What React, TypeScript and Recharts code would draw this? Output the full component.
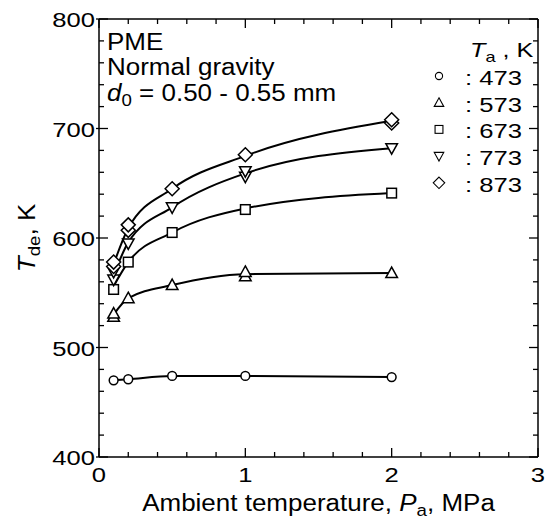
import React from 'react';
import { ComposedChart, Line, Scatter, XAxis, YAxis, Customized } from 'recharts';

// ─── data ─────────────────────────────────────────────────────────────────────

const pressures = [0.1, 0.2, 0.5, 1, 2];

// smooth fit curves through each ambient temperature group
const fit473 = [470, 471, 474, 474, 473];
const fit573 = [530, 545, 557, 567, 568];
const fit673 = [556, 578, 605, 627, 641];
const fit773 = [566, 596, 628, 659, 682];
const fit873 = [576, 609, 645, 675, 707];

// measured points (repeats included)
const pts473x = [0.1, 0.2, 0.5, 1, 2];
const pts473y = [470, 471, 474, 474, 473];
const pts573x = [0.1, 0.1, 0.2, 0.5, 1, 1, 2];
const pts573y = [528, 531, 545, 557, 565, 569, 568];
const pts673x = [0.1, 0.2, 0.5, 1, 2];
const pts673y = [553, 578, 605, 626, 641];
const pts773x = [0.1, 0.1, 0.2, 0.5, 1, 1, 2];
const pts773y = [562, 569, 595, 628, 656, 661, 682];
const pts873x = [0.1, 0.1, 0.2, 0.2, 0.5, 1, 2, 2];
const pts873y = [574, 578, 607, 612, 645, 676, 705, 708];

const legendLabels = [': 473', ': 573', ': 673', ': 773', ': 873'];

const xTicks = [0, 0.2, 0.4, 0.6, 0.8, 1, 1.2, 1.4, 1.6, 1.8, 2, 2.2, 2.4, 2.6, 2.8, 3];
const yTicks = [400, 420, 440, 460, 480, 500, 520, 540, 560, 580, 600, 620, 640, 660, 680, 700, 720, 740, 760, 780, 800];
const xMajor = [0, 1, 2, 3];
const yMajor = [400, 500, 600, 700, 800];

// ─── layout ───────────────────────────────────────────────────────────────────

const W = 550;
const H = 521;
const LEFT = 99;
const RIGHT = 12;
const TOP = 19;
const BOTTOM = 64;
const PL = LEFT;
const PR = W - RIGHT;
const PT = TOP;
const PB = H - BOTTOM;
const FONT = '"Liberation Sans", Arial, sans-serif';

const zip = (xs: number[], ys: number[]) => xs.map((x, i) => ({ x, y: ys[i] }));
const fit = (ys: number[]) => pressures.map((x, i) => ({ x, y: ys[i] }));

function SText({ x, y, sx = 1.13, size = 23, anchor = 'start', rotate = 0, children }: any) {
  const tr = `translate(${x},${y})${rotate ? ` rotate(${rotate})` : ''} scale(${sx},1)`;
  return (
    <text transform={tr} fontSize={size} textAnchor={anchor} fontFamily={FONT} fill="#000">
      {children}
    </text>
  );
}

// ─── markers ──────────────────────────────────────────────────────────────────

type Kind = 'circle' | 'up' | 'square' | 'down' | 'diamond';

function marker(kind: Kind, cx: number, cy: number, s: number, sw: number) {
  const common = { fill: '#fff', stroke: '#000', strokeWidth: sw };
  if (kind === 'circle') return <circle cx={cx} cy={cy} r={4.4 * s} {...common} />;
  if (kind === 'square') {
    const h = 4.8 * s;
    return <rect x={cx - h} y={cy - h} width={2 * h} height={2 * h} {...common} />;
  }
  if (kind === 'up') {
    const w = 5.8 * s;
    return <path d={`M${cx},${cy - 6 * s}L${cx + w},${cy + 4.5 * s}L${cx - w},${cy + 4.5 * s}Z`} {...common} />;
  }
  if (kind === 'down') {
    const w = 5.8 * s;
    return <path d={`M${cx},${cy + 6 * s}L${cx + w},${cy - 4.5 * s}L${cx - w},${cy - 4.5 * s}Z`} {...common} />;
  }
  const d = 7 * s;
  return <path d={`M${cx},${cy - d}L${cx + d},${cy}L${cx},${cy + d}L${cx - d},${cy}Z`} {...common} />;
}

const shapeOf = (kind: Kind) => (p: any) => marker(kind, p.cx, p.cy, 1, 1.5);

// ─── ticks ────────────────────────────────────────────────────────────────────

const near = (v: number, list: number[]) => list.some(m => Math.abs(m - v) < 1e-6);

function BottomTick({ x, payload }: any) {
  const major = near(payload.value, xMajor);
  return (
    <g>
      <line x1={x} x2={x} y1={PB} y2={PB - (major ? 9 : 5)} stroke="#000" strokeWidth={1.3} />
      {major && (
        <SText x={x} y={PB + 25} size={21} sx={1.22} anchor="middle">
          {payload.value}
        </SText>
      )}
    </g>
  );
}

function TopTick({ x, payload }: any) {
  const major = near(payload.value, xMajor);
  return <line x1={x} x2={x} y1={PT} y2={PT + (major ? 9 : 5)} stroke="#000" strokeWidth={1.3} />;
}

function LeftTick({ y, payload }: any) {
  const major = near(payload.value, yMajor);
  return (
    <g>
      <line x1={major ? PL - 3 : PL} x2={PL + (major ? 9 : 5)} y1={y} y2={y} stroke="#000" strokeWidth={1.3} />
      {major && (
        <SText x={PL - 4} y={y + 8} size={21} sx={1.22} anchor="end">
          {payload.value}
        </SText>
      )}
    </g>
  );
}

function RightTick({ y, payload }: any) {
  const major = near(payload.value, yMajor);
  return <line x1={PR} x2={PR - (major ? 9 : 5)} y1={y} y2={y} stroke="#000" strokeWidth={1.3} />;
}

// ─── annotations ──────────────────────────────────────────────────────────────

const kinds: Kind[] = ['circle', 'up', 'square', 'down', 'diamond'];

function Annotations() {
  return (
    <g>
      <SText x={PL + 8} y={50}>PME</SText>
      <SText x={PL + 8} y={75}>Normal gravity</SText>
      <SText x={PL + 8} y={101}>
        <tspan fontStyle="italic">d</tspan>
        <tspan fontSize="0.72em" dy={5}>0</tspan>
        <tspan dy={-5}> = 0.50 - 0.55 mm</tspan>
      </SText>
      <SText x={470} y={57} size={21} sx={1.2}>
        <tspan fontStyle="italic">T</tspan>
        <tspan fontSize="0.72em" dy={5}>a</tspan>
        <tspan dy={-5}> , K</tspan>
      </SText>
      {legendLabels.map((t, i) => (
        <g key={t}>
          {marker(kinds[i], 439, 76 + i * 26.7, 0.82, 1.1)}
          <SText x={465} y={85 + i * 26.7} size={21} sx={1.22}>
            {t}
          </SText>
        </g>
      ))}
      <SText x={35} y={(PT + PB) / 2} rotate={-90} anchor="middle">
        <tspan fontStyle="italic">T</tspan>
        <tspan fontSize="0.72em" dy={5}>de</tspan>
        <tspan dy={-5}>, K</tspan>
      </SText>
      <SText x={(PL + PR) / 2} y={511} anchor="middle">
        Ambient temperature,{' '}
        <tspan fontStyle="italic">P</tspan>
        <tspan fontSize="0.72em" dy={5}>a</tspan>
        <tspan dy={-5}>, MPa</tspan>
      </SText>
    </g>
  );
}

// ─── chart ────────────────────────────────────────────────────────────────────

const fits = [fit473, fit573, fit673, fit773, fit873];
const points = [
  zip(pts473x, pts473y),
  zip(pts573x, pts573y),
  zip(pts673x, pts673y),
  zip(pts773x, pts773y),
  zip(pts873x, pts873y),
];

export default function App() {
  return (
    <div style={{ position: 'absolute', left: 0, top: 0, width: W, height: H, background: '#fff' }}>
      <ComposedChart
        width={W}
        height={H}
        margin={{ top: 0, right: 0, bottom: 0, left: 0 }}
        style={{ overflow: 'visible' }}
      >
        <XAxis
          xAxisId={0}
          type="number"
          dataKey="x"
          domain={[0, 3]}
          ticks={xTicks}
          interval={0}
          height={BOTTOM}
          tick={<BottomTick />}
          tickLine={false}
          axisLine={{ stroke: '#000', strokeWidth: 1.5 }}
          allowDataOverflow
        />
        <XAxis
          xAxisId="top"
          orientation="top"
          type="number"
          dataKey="x"
          domain={[0, 3]}
          ticks={xTicks}
          interval={0}
          height={TOP}
          tick={<TopTick />}
          tickLine={false}
          axisLine={{ stroke: '#000', strokeWidth: 1.5 }}
          allowDataOverflow
        />
        <YAxis
          yAxisId={0}
          type="number"
          dataKey="y"
          domain={[400, 800]}
          ticks={yTicks}
          interval={0}
          width={LEFT}
          tick={<LeftTick />}
          tickLine={false}
          axisLine={{ stroke: '#000', strokeWidth: 1.5 }}
          allowDataOverflow
        />
        <YAxis
          yAxisId="right"
          orientation="right"
          type="number"
          dataKey="y"
          domain={[400, 800]}
          ticks={yTicks}
          interval={0}
          width={RIGHT}
          tick={<RightTick />}
          tickLine={false}
          axisLine={{ stroke: '#000', strokeWidth: 1.5 }}
          allowDataOverflow
        />
        {fits.map((f, i) => (
          <Line
            key={`fit${i}`}
            data={fit(f)}
            dataKey="y"
            type="monotone"
            stroke="#000"
            strokeWidth={2}
            dot={false}
            activeDot={false}
            isAnimationActive={false}
          />
        ))}
        {points.map((p, i) => (
          <Scatter key={`pts${i}`} data={p} dataKey="y" shape={shapeOf(kinds[i])} isAnimationActive={false} />
        ))}
        <Customized component={<Annotations />} />
      </ComposedChart>
    </div>
  );
}
